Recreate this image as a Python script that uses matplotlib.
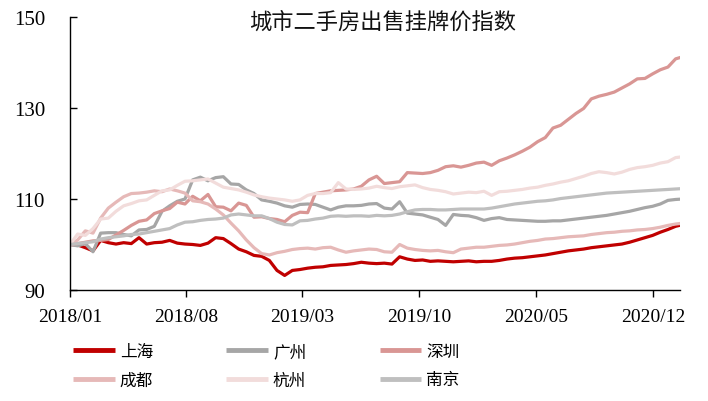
import matplotlib
matplotlib.use("Agg")
import matplotlib.pyplot as plt
import matplotlib.dates as mdates
import pandas as pd
import numpy as np

# ---- data (bi-weekly samples) ----
dates = pd.date_range("2018-01-01", periods=81, freq="14D")

shanghai = [100.0, 99.9, 99.3, 98.6, 100.9, 100.4, 100.1, 100.4, 100.2, 101.5,
            100.1, 100.4, 100.5, 100.9, 100.3, 100.1, 100.0, 99.8, 100.3, 101.5,
            101.3, 100.2, 99.0, 98.4, 97.6, 97.4, 96.5, 94.3, 93.2, 94.3,
            94.5, 94.8, 95.0, 95.1, 95.4, 95.5, 95.6, 95.8, 96.1, 95.9,
            95.8, 95.9, 95.7, 97.3, 96.8, 96.5, 96.6, 96.3, 96.4, 96.3,
            96.2, 96.3, 96.4, 96.2, 96.3, 96.3, 96.5, 96.8, 97.0, 97.1,
            97.3, 97.5, 97.7, 98.0, 98.3, 98.6, 98.8, 99.0, 99.3, 99.5,
            99.7, 99.9, 100.1, 100.5, 101.0, 101.5, 102.0, 102.7, 103.3, 104.0,
            104.4]

guangzhou = [100.0, 99.7, 100.2, 98.4, 102.5, 102.6, 102.6, 102.2, 101.9, 103.2,
             103.3, 104.0, 107.3, 108.5, 109.5, 110.0, 114.2, 114.8, 114.0, 114.7,
             114.9, 113.3, 113.2, 112.0, 111.2, 109.8, 109.5, 109.1, 108.5, 108.2,
             108.8, 108.9, 108.8, 108.2, 107.6, 108.2, 108.5, 108.5, 108.6, 108.9,
             109.0, 108.0, 107.8, 109.4, 106.9, 106.7, 106.5, 106.0, 105.5, 104.2,
             106.6, 106.4, 106.3, 105.9, 105.3, 105.7, 105.9, 105.5, 105.4, 105.3,
             105.2, 105.1, 105.1, 105.2, 105.2, 105.4, 105.6, 105.8, 106.0, 106.2,
             106.4, 106.7, 107.0, 107.3, 107.7, 108.1, 108.4, 108.9, 109.7, 109.9,
             110.0]

shenzhen = [100.0, 100.2, 100.5, 100.8, 100.9, 101.1, 102.1, 103.1, 104.2, 105.1,
            105.4, 106.8, 107.4, 107.9, 109.3, 108.9, 110.6, 109.6, 111.0, 108.3,
            108.2, 107.4, 109.1, 108.6, 106.0, 106.1, 105.7, 105.5, 105.0, 106.4,
            107.1, 107.0, 111.2, 111.5, 111.8, 111.9, 112.0, 112.2, 112.8, 114.2,
            115.0, 113.4, 113.6, 113.8, 115.8, 115.7, 115.6, 115.8, 116.3, 117.1,
            117.3, 117.0, 117.4, 117.9, 118.1, 117.4, 118.4, 119.0, 119.7, 120.5,
            121.4, 122.6, 123.5, 125.6, 126.2, 127.5, 128.8, 129.9, 132.0, 132.6,
            133.0, 133.5, 134.4, 135.3, 136.4, 136.5, 137.5, 138.4, 139.0, 140.8,
            141.3]

chengdu = [100.0, 101.0, 103.0, 102.5, 105.8, 108.0, 109.3, 110.5, 111.2, 111.3,
           111.5, 111.8, 111.6, 112.2, 111.8, 111.3, 109.6, 109.4, 108.9, 107.8,
           106.5, 104.7, 103.0, 101.0, 99.3, 98.0, 97.7, 98.2, 98.5, 98.9,
           99.1, 99.2, 99.0, 99.3, 99.4, 98.8, 98.3, 98.6, 98.8, 99.0,
           98.9, 98.4, 98.3, 100.0, 99.2, 98.9, 98.7, 98.6, 98.7, 98.4,
           98.2, 99.0, 99.2, 99.4, 99.4, 99.6, 99.8, 99.9, 100.1, 100.4,
           100.7, 100.9, 101.2, 101.3, 101.5, 101.7, 101.8, 101.9, 102.2, 102.4,
           102.6, 102.7, 102.9, 103.0, 103.2, 103.3, 103.5, 103.8, 104.2, 104.5,
           104.7]

hangzhou = [100.0, 102.3, 102.0, 103.5, 105.6, 105.8, 107.3, 108.5, 109.0, 109.6,
            109.8, 110.8, 111.8, 112.0, 113.0, 113.9, 114.0, 114.2, 114.4, 113.5,
            112.6, 112.3, 112.0, 111.5, 110.9, 110.5, 110.2, 110.0, 109.8, 109.5,
            109.8, 110.8, 111.2, 111.2, 111.4, 113.6, 112.2, 112.1, 112.2, 112.4,
            112.8, 112.5, 112.3, 112.7, 112.9, 113.1, 112.5, 112.1, 111.9, 111.6,
            111.1, 111.3, 111.5, 111.4, 111.7, 110.8, 111.6, 111.7, 111.9, 112.1,
            112.4, 112.6, 113.0, 113.3, 113.7, 114.0, 114.5, 115.0, 115.6, 116.0,
            115.8, 115.5, 115.9, 116.5, 116.9, 117.1, 117.4, 117.9, 118.2, 119.1,
            119.3]

nanjing = [100.0, 100.2, 100.4, 100.6, 101.2, 101.5, 101.7, 101.9, 102.2, 102.3,
           102.6, 102.9, 103.2, 103.5, 104.3, 104.9, 105.0, 105.3, 105.5, 105.6,
           105.8, 106.5, 106.7, 106.5, 106.3, 106.3, 105.7, 104.9, 104.4, 104.3,
           105.2, 105.3, 105.6, 105.8, 106.2, 106.3, 106.2, 106.3, 106.3, 106.2,
           106.4, 106.3, 106.4, 106.7, 107.2, 107.6, 107.7, 107.7, 107.6, 107.6,
           107.7, 107.8, 107.8, 107.8, 107.8, 108.0, 108.3, 108.6, 108.9, 109.1,
           109.3, 109.5, 109.6, 109.8, 110.1, 110.3, 110.5, 110.7, 110.9, 111.1,
           111.3, 111.4, 111.5, 111.6, 111.7, 111.8, 111.9, 112.0, 112.1, 112.2,
           112.3]

series_names = ["上海", "广州", "深圳", "成都", "杭州", "南京"]
series_values = [shanghai, guangzhou, shenzhen, chengdu, hangzhou, nanjing]
series_colors = ["#C00000", "#A6A6A6", "#D99694", "#E6B9B8", "#F2DCDB", "#BFBFBF"]

title_text = "城市二手房出售挂牌价指数"
y_ticks = [90, 110, 130, 150]
x_tick_dates = ["2018-01-01", "2018-08-01", "2019-03-01", "2019-10-01", "2020-05-01", "2020-12-01"]

# ---- figure ----
fig = plt.figure(figsize=(7.08, 4.02), dpi=100)
ax = fig.add_axes([70 / 708, 1 - 291 / 402, 610 / 708, 273 / 402])

lines = {}
for name, vals, col in zip(series_names, series_values, series_colors):
    ln, = ax.plot(dates, vals, color=col, lw=2.3, solid_capstyle="butt", label=name)
    lines[name] = ln

ax.set_ylim(90, 150)
ax.set_yticks(y_ticks)
ax.set_xlim(pd.Timestamp("2018-01-01"), pd.Timestamp("2021-01-19"))
ax.set_xticks([pd.Timestamp(d) for d in x_tick_dates])
ax.xaxis.set_major_formatter(mdates.DateFormatter("%Y/%m"))

for s in ["top", "right"]:
    ax.spines[s].set_visible(False)
for s in ["left", "bottom"]:
    ax.spines[s].set_color("black")
    ax.spines[s].set_linewidth(1.0)

ax.tick_params(axis="y", direction="in", length=5, width=1, pad=18)
ax.tick_params(axis="x", direction="out", length=5, width=1, pad=8)
for lab in ax.get_yticklabels():
    lab.set_fontfamily("Liberation Serif")
    lab.set_fontsize(15)
for lab in ax.get_xticklabels():
    lab.set_fontfamily("Liberation Serif")
    lab.set_fontsize(14)

ax.text(0.513, 0.983, title_text, transform=ax.transAxes, ha="center", va="center",
        fontsize=16, family=["Noto Sans CJK SC", "DejaVu Sans"], color="#111111")

order = ["上海", "成都", "广州", "杭州", "深圳", "南京"]
leg = fig.legend([lines[n] for n in order], order, ncol=3, loc="upper left",
                 bbox_to_anchor=(73 / 708, 1 - 344 / 402), frameon=False,
                 borderpad=0, borderaxespad=0, handlelength=2.5, handletextpad=0.3,
                 columnspacing=4.4, labelspacing=0.68,
                 prop={"family": ["Noto Sans CJK SC", "DejaVu Sans"], "size": 12})
for h in leg.legend_handles:
    h.set_linewidth(3.5)

fig.savefig("out.png", dpi=100)
